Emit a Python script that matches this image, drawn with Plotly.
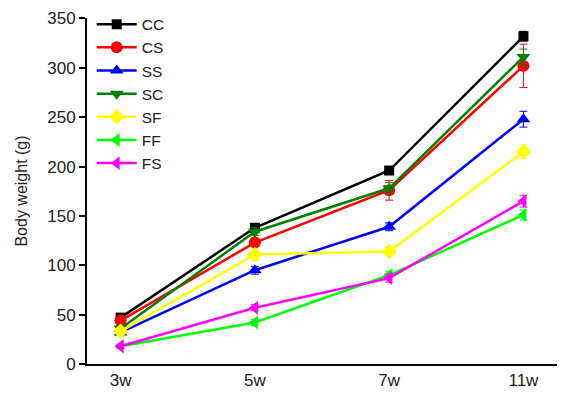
import plotly.graph_objects as go

weeks = ["3w", "5w", "7w", "11w"]
series_names = ["CC", "CS", "SS", "SC", "SF", "FF", "FS"]
CC = [47, 138, 196, 332]
CS = [44, 123, 176, 302]
SS = [32, 95, 139, 248]
SC = [36, 134, 178, 311]
SF = [33, 111, 114, 215]
FF = [18, 42, 90, 151]
FS = [18, 57, 87, 165]
err_CC = [3, 3, 4, 5]
err_CS = [4, 4, 10, 22]
err_SS = [3, 4, 4, 8]
err_SC = [3, 4, 6, 8]
err_SF = [3, 6, 4, 7]
err_FF = [2, 3, 4, 5]
err_FS = [2, 3, 4, 6]

values = [CC, CS, SS, SC, SF, FF, FS]
errors = [err_CC, err_CS, err_SS, err_SC, err_SF, err_FF, err_FS]
colors = ["#000000", "#FF0000", "#0000FF", "#008000", "#FFFF00", "#00FF00", "#FF00FF"]
symbols = ["square", "circle", "triangle-up", "triangle-down", "diamond", "triangle-left", "triangle-left"]

fig = go.Figure()
for name, v, e, c, s in zip(series_names, values, errors, colors, symbols):
    fig.add_trace(go.Scatter(
        x=weeks, y=v, name=name, mode="lines+markers",
        line=dict(color=c, width=2.5),
        marker=dict(color=c, symbol=s, size=12 if s != "square" else 10),
        error_y=dict(type="data", array=e, color=c, thickness=1, width=4),
    ))

fig.update_layout(
    width=561, height=394,
    margin=dict(l=87, r=4, t=18, b=28),
    paper_bgcolor="white", plot_bgcolor="white",
    font=dict(family="Liberation Sans, Arial, sans-serif", size=17, color="#222"),
    showlegend=True,
    legend=dict(x=0.01, y=1.03, xanchor="left", yanchor="top",
                bgcolor="rgba(0,0,0,0)", borderwidth=0,
                font=dict(size=15.5), itemwidth=40, tracegroupgap=0),
    xaxis=dict(type="category", range=[-0.25, 3.25], showline=True, linecolor="black",
               linewidth=2, ticks="", showgrid=False, zeroline=False,
               tickfont=dict(size=17)),
    yaxis=dict(range=[0, 350.5], tickvals=[0, 50, 100, 150, 200, 250, 300, 350],
               showline=True, linecolor="black", linewidth=2, ticks="outside",
               ticklen=6, tickwidth=2, tickcolor="black", showgrid=False, zeroline=False,
               title=dict(text="Body weight (g)", font=dict(size=16), standoff=16),
               tickfont=dict(size=17)),
)

fig.write_html("out.html")
